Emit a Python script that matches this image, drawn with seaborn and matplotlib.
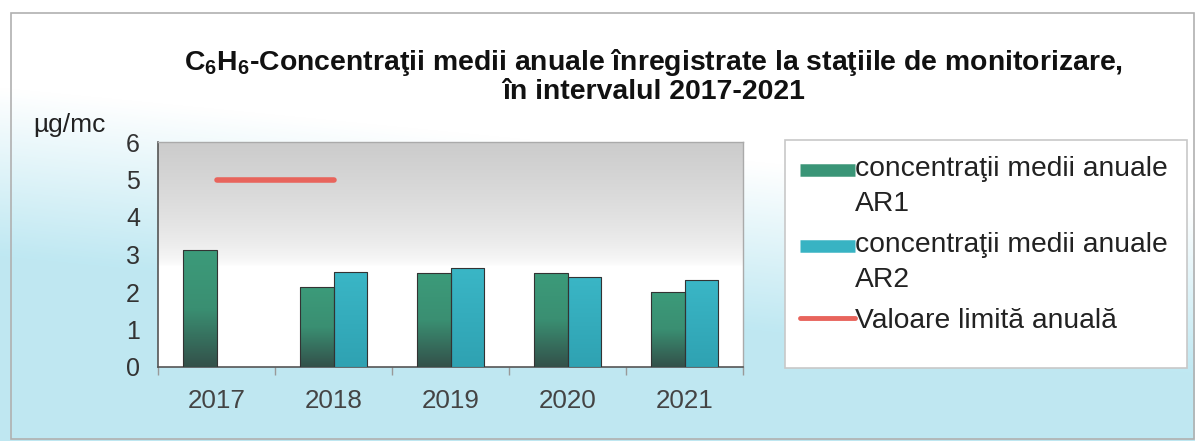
import numpy as np
import pandas as pd
import matplotlib.pyplot as plt
import seaborn as sns
from matplotlib.lines import Line2D
from matplotlib.patches import Rectangle
from matplotlib.colors import LinearSegmentedColormap, to_rgb
from matplotlib.legend_handler import HandlerLine2D

# data
years = ['2017', '2018', '2019', '2020', '2021']
ar1 = [3.12, 2.13, 2.50, 2.52, 2.01]
ar2 = [np.nan, 2.53, 2.64, 2.41, 2.31]
limit = [5, 5, np.nan, np.nan, np.nan]
series_names = ['concentraţii medii anuale\nAR1', 'concentraţii medii anuale\nAR2']
limit_name = 'Valoare limită anuală'
yticks = [0, 1, 2, 3, 4, 5, 6]

df = pd.DataFrame({
    'an': years * 2,
    'valoare': ar1 + ar2,
    'serie': [series_names[0]] * len(years) + [series_names[1]] * len(years),
})

sns.set_theme(style='white')
plt.rcParams['font.family'] = ['Liberation Sans', 'DejaVu Sans']
plt.rcParams['mathtext.fontset'] = 'custom'
plt.rcParams['mathtext.rm'] = 'Liberation Sans'
plt.rcParams['mathtext.bf'] = 'Liberation Sans:bold'

green = '#3a9577'
cyan = '#38b3c3'
red = '#e8645c'
LEG_FS = 20.3


class FirstLineHandler(HandlerLine2D):
    # put the legend key next to the first line of a two-line label
    def __init__(self, shift, **kw):
        super().__init__(**kw)
        self.shift = shift

    def create_artists(self, legend, orig_handle, xdescent, ydescent,
                       width, height, fontsize, trans):
        arts = super().create_artists(legend, orig_handle, xdescent, ydescent,
                                      width, height, fontsize, trans)
        for a in arts:
            a.set_ydata(np.asarray(a.get_ydata(), dtype=float) + self.shift)
        return arts


fig = plt.figure(figsize=(11.95, 4.41), dpi=100)

# figure background: white top-right fading to light cyan bottom-left
bg = fig.add_axes([0, 0, 1, 1], zorder=-10)
yy, xx = np.mgrid[0:1:441j, 0:1:1195j]
t = np.clip((yy - 0.28) / 0.38 + (0.3 - xx) * 0.7, 0, 1)
top_c = np.array(to_rgb('#ffffff'))
bot_c = np.array(to_rgb('#bfe8f2'))
img = top_c * (1 - t[..., None]) + bot_c * t[..., None]
bg.imshow(img, aspect='auto', extent=[0, 1, 0, 1], origin='upper')
bg.axis('off')
fig.patches.append(Rectangle((11 / 1195, 0.005), 1 - 12 / 1195, 1 - 13 / 441 - 0.005,
                             transform=fig.transFigure, fill=False,
                             edgecolor='#b0b0b0', lw=1.2))

ax = fig.add_axes([158 / 1195, 1 - 367 / 441, 585 / 1195, 225 / 441])
ax.patch.set_alpha(0)

sns.barplot(data=df, x='an', y='valoare', hue='serie', palette=[green, cyan],
            width=0.58, edgecolor='#333333', linewidth=0.8, ax=ax,
            legend=False, zorder=3)

ax.set_xlim(-0.5, len(years) - 0.5)
ax.set_ylim(0, 6)

# gray plot-area gradient
vals = np.linspace(0, 6, 200)[:, None]
shade = np.clip((vals - 2.7) / 3.3, 0, 1) ** 0.6
plot_cmap = LinearSegmentedColormap.from_list('pa', ['#ffffff', '#cccccc'])
ax.imshow(shade, extent=[-0.5, len(years) - 0.5, 0, 6], origin='lower',
          aspect='auto', cmap=plot_cmap, vmin=0, vmax=1, zorder=0)

# gradients inside the bars
cm1 = LinearSegmentedColormap.from_list('g1', ['#33514a', '#3a8f72', '#3c9b7a'])
cm2 = LinearSegmentedColormap.from_list('g2', ['#2fa2b2', '#3ab6c6'])
grad = np.linspace(0, 1, 100)[:, None]
for p in list(ax.patches):
    h = p.get_height()
    if not np.isfinite(h) or h <= 0:
        continue
    fc = p.get_facecolor()
    cmap = cm1 if abs(fc[0] - to_rgb(green)[0]) < 0.05 else cm2
    x0, w = p.get_x(), p.get_width()
    im = ax.imshow(grad, extent=[x0, x0 + w, 0, h], origin='lower',
                   aspect='auto', cmap=cmap, zorder=3.5)
    im.set_clip_path(p)
    p.set_facecolor('none')
    p.set_zorder(4)

ax.set_xlim(-0.5, len(years) - 0.5)
ax.set_ylim(0, 6)

# annual limit line
ax.plot(np.arange(len(years)), limit, color=red, lw=4, solid_capstyle='round', zorder=5)

ax.set_xlabel('')
ax.set_ylabel('')
ax.set_yticks(yticks)
ax.tick_params(axis='y', which='major', direction='out', length=5, width=1,
               color='#888888', labelsize=18, labelcolor='#333333', pad=8)
ax.set_xticks(np.arange(len(years)))
ax.set_xticklabels(years)
ax.set_xticks(np.arange(len(years) + 1) - 0.5, minor=True)
ax.tick_params(axis='x', which='major', length=0, labelsize=18.7,
               labelcolor='#444444', pad=16)
ax.tick_params(axis='x', which='minor', direction='out', length=6, width=1,
               color='#999999', bottom=True)
for s in ['left', 'bottom']:
    ax.spines[s].set_color('#555555')
    ax.spines[s].set_linewidth(1.2)
for s in ['top', 'right']:
    ax.spines[s].set_color('#aaaaaa')
    ax.spines[s].set_linewidth(1)

# titles and unit
fig.text(0.547, 1 - 62 / 441,
         r'C$_\mathbf{6}$H$_\mathbf{6}$-Concentraţii medii anuale înregistrate la staţiile de monitorizare,',
         ha='center', va='center', fontsize=20.4, weight='bold', color='#111111')
fig.text(0.547, 1 - 92 / 441, 'în intervalul 2017-2021',
         ha='center', va='center', fontsize=20.4, weight='bold', color='#111111')
fig.text(33 / 1195, 1 - 125 / 441, 'µg/mc', ha='left', va='center',
         fontsize=19, color='#222222')

# legend box and entries
fig.patches.append(Rectangle((785 / 1195, 1 - 368 / 441), 402 / 1195, 228 / 441,
                             transform=fig.transFigure, facecolor='white',
                             edgecolor='#c8c8c8', lw=1.2, zorder=1))
handles = [
    Line2D([], [], color=green, lw=9, solid_capstyle='butt'),
    Line2D([], [], color=cyan, lw=9, solid_capstyle='butt'),
    Line2D([], [], color=red, lw=3.5),
]
shift = LEG_FS * 0.6
leg = fig.legend(handles, series_names + [limit_name], loc='upper left',
                 bbox_to_anchor=(800 / 1195, 1 - 156 / 441), fontsize=LEG_FS,
                 frameon=False, handlelength=1.95, handletextpad=0.0,
                 borderaxespad=0, borderpad=0, labelspacing=0.53,
                 labelcolor='#222222',
                 handler_map={handles[0]: FirstLineHandler(shift),
                              handles[1]: FirstLineHandler(shift)})
for txt in leg.get_texts():
    txt.set_linespacing(1.45)

fig.savefig('out.png', dpi=100)
